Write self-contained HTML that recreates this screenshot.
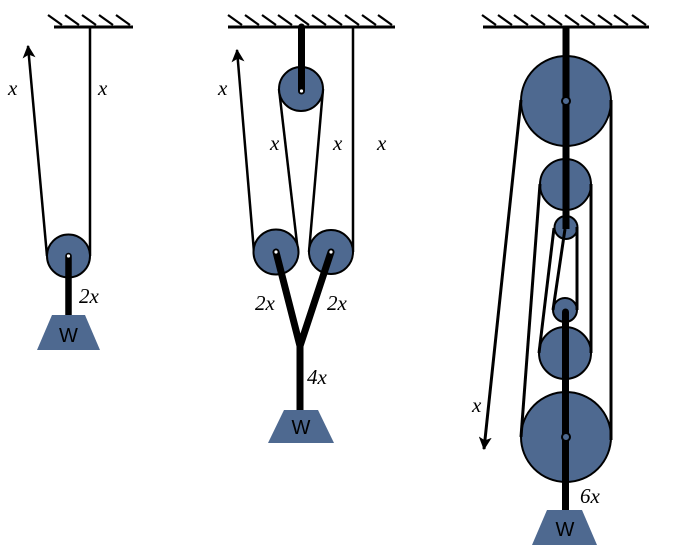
<!DOCTYPE html>
<html>
<head>
<meta charset="utf-8">
<style>
  html, body { margin: 0; padding: 0; background: #ffffff; }
  svg { display: block; }
  .lbl { font-family: "Liberation Serif", serif; font-style: italic; font-size: 21px; fill: #000; }
  .w { font-family: "Liberation Sans", sans-serif; font-size: 20px; fill: #000; }
</style>
</head>
<body>
<svg width="681" height="555" viewBox="0 0 681 555" xmlns="http://www.w3.org/2000/svg">
  <defs>
    <marker id="ah" viewBox="0 0 12 12" refX="11" refY="6" markerWidth="13" markerHeight="13" markerUnits="userSpaceOnUse" orient="auto">
      <path d="M0,0 L12,6 L0,12 L3,6 z" fill="#000"/>
    </marker>
  </defs>

  <!-- ===================== Diagram 1 ===================== -->
  <g stroke="#000" stroke-width="2.2">
    <line x1="48" y1="15" x2="62" y2="25"/>
    <line x1="65" y1="15" x2="79" y2="25"/>
    <line x1="82" y1="15" x2="96" y2="25"/>
    <line x1="99" y1="15" x2="113" y2="25"/>
    <line x1="116" y1="15" x2="130" y2="25"/>
  </g>
  <line x1="54" y1="27" x2="133" y2="27" stroke="#000" stroke-width="3"/>
  <!-- ropes -->
  <line x1="90" y1="27" x2="90" y2="256" stroke="#000" stroke-width="2.5"/>
  <line x1="47" y1="256" x2="28" y2="46" stroke="#000" stroke-width="2.5" marker-end="url(#ah)"/>
  <!-- pulley -->
  <circle cx="68.5" cy="256" r="21.5" fill="#4e6990" stroke="#000" stroke-width="2"/>
  <!-- rod -->
  <line x1="68.5" y1="256" x2="68.5" y2="316" stroke="#000" stroke-width="6.5" stroke-linecap="round"/>
  <circle cx="68.5" cy="256" r="1.6" fill="#fff"/>
  <!-- weight -->
  <polygon points="52,315 85,315 100,350 37,350" fill="#4e6990"/>
  <text x="68.5" y="342" class="w" text-anchor="middle">W</text>
  <text x="8" y="95" class="lbl">x</text>
  <text x="98" y="95" class="lbl">x</text>
  <text x="79" y="303" class="lbl">2x</text>

  <!-- ===================== Diagram 2 ===================== -->
  <g stroke="#000" stroke-width="2.2">
    <line x1="228" y1="15" x2="242" y2="25"/>
    <line x1="245" y1="15" x2="259" y2="25"/>
    <line x1="262" y1="15" x2="276" y2="25"/>
    <line x1="278" y1="15" x2="292" y2="25"/>
    <line x1="295" y1="15" x2="309" y2="25"/>
    <line x1="312" y1="15" x2="326" y2="25"/>
    <line x1="328" y1="15" x2="342" y2="25"/>
    <line x1="345" y1="15" x2="359" y2="25"/>
    <line x1="362" y1="15" x2="376" y2="25"/>
    <line x1="378" y1="15" x2="392" y2="25"/>
  </g>
  <line x1="228" y1="27" x2="395" y2="27" stroke="#000" stroke-width="3"/>
  <!-- ropes -->
  <line x1="353" y1="27" x2="353" y2="252" stroke="#000" stroke-width="2.5"/>
  <line x1="279" y1="89" x2="298" y2="252" stroke="#000" stroke-width="2.5"/>
  <line x1="323" y1="89" x2="309" y2="252" stroke="#000" stroke-width="2.5"/>
  <line x1="254" y1="252" x2="237" y2="50" stroke="#000" stroke-width="2.5" marker-end="url(#ah)"/>
  <!-- pulleys -->
  <circle cx="301" cy="89" r="22" fill="#4e6990" stroke="#000" stroke-width="2"/>
  <circle cx="276" cy="252" r="22.5" fill="#4e6990" stroke="#000" stroke-width="2"/>
  <circle cx="331" cy="252" r="22" fill="#4e6990" stroke="#000" stroke-width="2"/>
  <!-- rods -->
  <line x1="301.5" y1="27" x2="301.5" y2="91" stroke="#000" stroke-width="7" stroke-linecap="round"/>
  <circle cx="301.5" cy="91" r="1.6" fill="#fff"/>
  <polyline points="276,252 300,346 331,252" fill="none" stroke="#000" stroke-width="7" stroke-linecap="round" stroke-linejoin="miter"/>
  <line x1="300" y1="346" x2="300" y2="411" stroke="#000" stroke-width="7"/>
  <circle cx="276" cy="252" r="1.6" fill="#fff"/>
  <circle cx="331" cy="252" r="1.6" fill="#fff"/>
  <!-- weight -->
  <polygon points="284,410 318,410 334,443 268,443" fill="#4e6990"/>
  <text x="301" y="434" class="w" text-anchor="middle">W</text>
  <text x="218" y="95" class="lbl">x</text>
  <text x="270" y="150" class="lbl">x</text>
  <text x="333" y="150" class="lbl">x</text>
  <text x="377" y="150" class="lbl">x</text>
  <text x="255" y="310" class="lbl">2x</text>
  <text x="327" y="310" class="lbl">2x</text>
  <text x="307" y="384" class="lbl">4x</text>

  <!-- ===================== Diagram 3 ===================== -->
  <g stroke="#000" stroke-width="2.2">
    <line x1="482" y1="15" x2="496" y2="25"/>
    <line x1="498" y1="15" x2="512" y2="25"/>
    <line x1="514" y1="15" x2="528" y2="25"/>
    <line x1="531" y1="15" x2="545" y2="25"/>
    <line x1="548" y1="15" x2="562" y2="25"/>
    <line x1="565" y1="15" x2="579" y2="25"/>
    <line x1="581" y1="15" x2="595" y2="25"/>
    <line x1="598" y1="15" x2="612" y2="25"/>
    <line x1="614" y1="15" x2="628" y2="25"/>
    <line x1="632" y1="15" x2="646" y2="25"/>
  </g>
  <line x1="483" y1="27" x2="649" y2="27" stroke="#000" stroke-width="3"/>

  <!-- pulleys -->
  <circle cx="566" cy="101" r="45" fill="#4e6990" stroke="#000" stroke-width="2"/>
  <circle cx="565.5" cy="184.5" r="25.5" fill="#4e6990" stroke="#000" stroke-width="2"/>
  <circle cx="566" cy="227.5" r="11.5" fill="#4e6990" stroke="#000" stroke-width="2"/>
  <circle cx="565" cy="310" r="12" fill="#4e6990" stroke="#000" stroke-width="2"/>
  <circle cx="565" cy="353" r="26" fill="#4e6990" stroke="#000" stroke-width="2"/>
  <circle cx="566" cy="437" r="45" fill="#4e6990" stroke="#000" stroke-width="2"/>

  <!-- ropes -->
  <g stroke="#000" stroke-width="3">
    <line x1="611" y1="100" x2="611" y2="440"/>
    <line x1="591" y1="184" x2="591" y2="353"/>
    <line x1="577" y1="227" x2="577" y2="310"/>
    <line x1="540" y1="184" x2="521" y2="437"/>
    <line x1="554" y1="228" x2="539" y2="353"/>
    <line x1="565" y1="229" x2="553" y2="310"/>
  </g>
  <line x1="521" y1="100" x2="484" y2="449" stroke="#000" stroke-width="3" marker-end="url(#ah)"/>

  <!-- rods -->
  <line x1="566" y1="27" x2="566" y2="229" stroke="#000" stroke-width="7"/>
  <line x1="565.5" y1="312" x2="565.5" y2="511" stroke="#000" stroke-width="7" stroke-linecap="round"/>
  <!-- axles -->
  <circle cx="566" cy="101" r="4" fill="#4e6990" stroke="#000" stroke-width="2"/>
  <circle cx="566" cy="437" r="4" fill="#4e6990" stroke="#000" stroke-width="2"/>

  <!-- weight -->
  <polygon points="547,510 582,510 597,545 532,545" fill="#4e6990"/>
  <text x="565" y="536" class="w" text-anchor="middle">W</text>
  <text x="472" y="412" class="lbl">x</text>
  <text x="580" y="503" class="lbl">6x</text>
</svg>
</body>
</html>
